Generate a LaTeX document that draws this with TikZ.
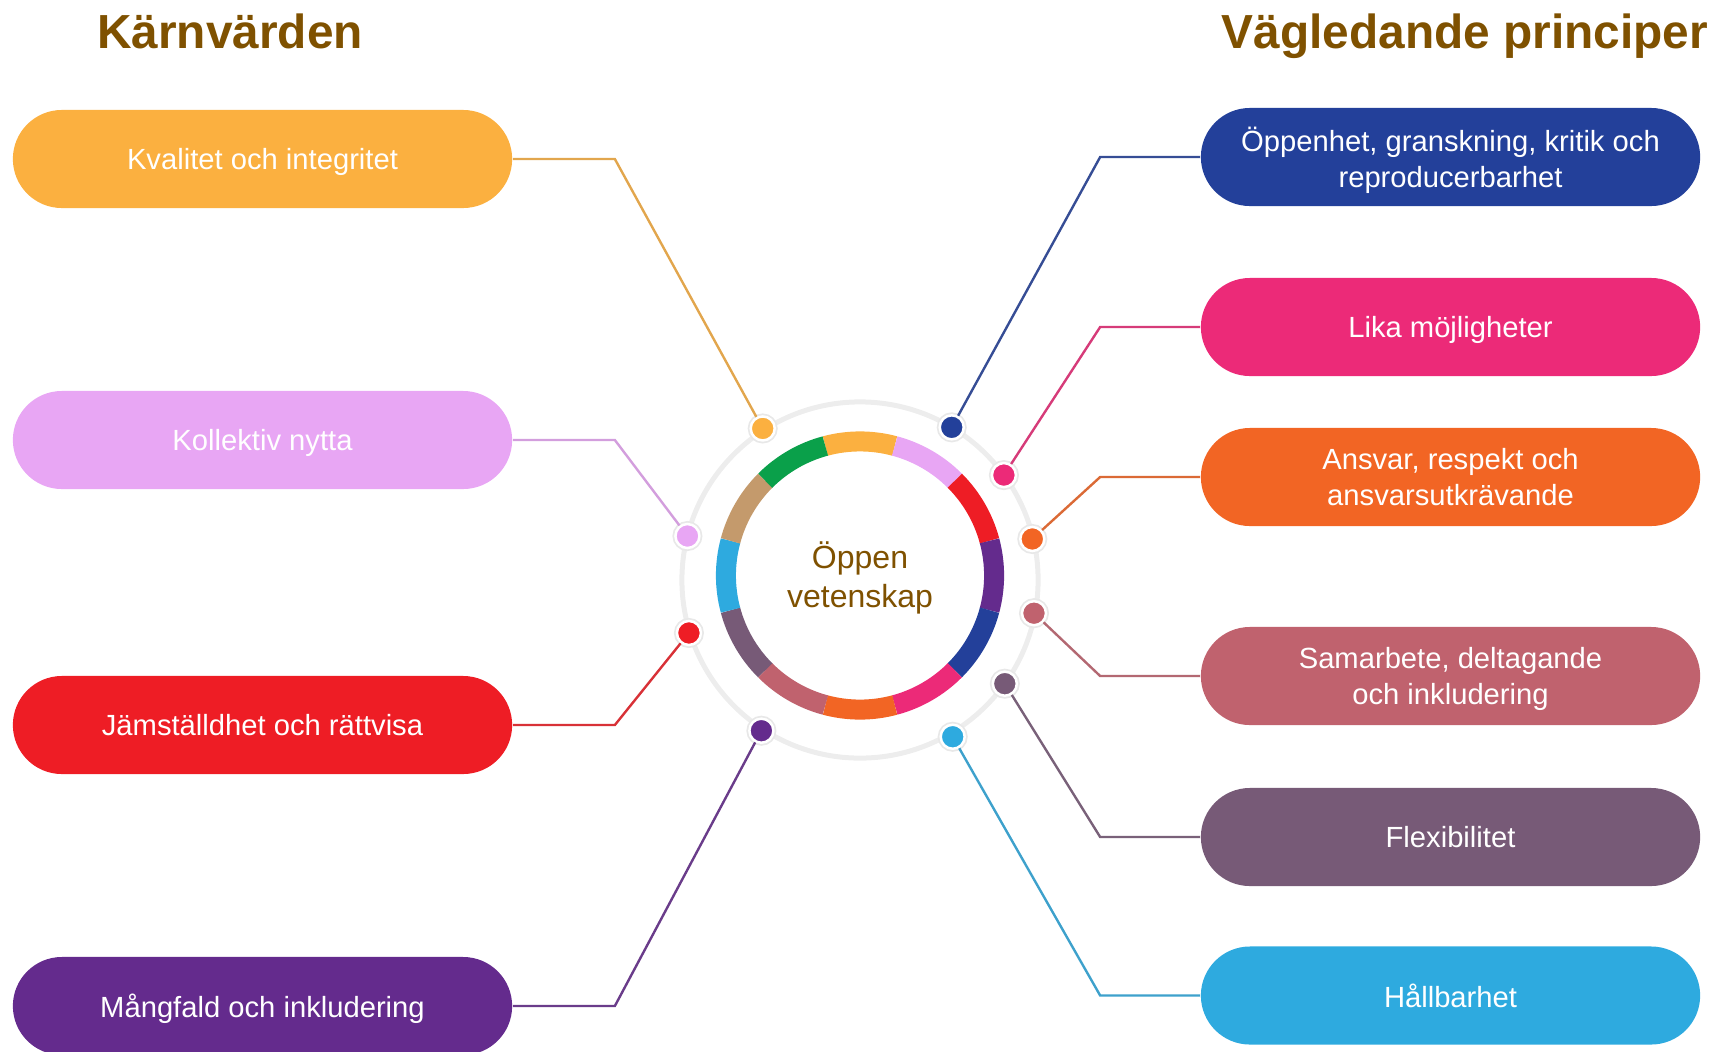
\documentclass[tikz,border=0pt]{standalone}
\usepackage{fontspec}
\setmainfont{Liberation Sans}
\usetikzlibrary{calc}
\definecolor{titlebrown}{HTML}{7F5100}
\definecolor{kval}{HTML}{FBB040}
\definecolor{koll}{HTML}{E8A6F4}
\definecolor{jams}{HTML}{EE1D25}
\definecolor{mang}{HTML}{642B8D}
\definecolor{oppen}{HTML}{23409A}
\definecolor{lika}{HTML}{EC2A78}
\definecolor{ansv}{HTML}{F26524}
\definecolor{samb}{HTML}{C0626E}
\definecolor{flex}{HTML}{775A77}
\definecolor{hall}{HTML}{2EAADF}
\definecolor{tan}{HTML}{C49A6C}
\definecolor{grn}{HTML}{0AA04A}
\def\ringseg(#1:#2)#3{\draw[line width=0.2cm, color=#3] ($(ctr)+(#1:1.34cm)$) arc[start angle=#1, end angle=#2, radius=1.34cm];}

\begin{document}
\begin{tikzpicture}[x=0.01cm, y=-0.01cm,
	box/.style={fill=#1, rounded corners=0.49cm, minimum width=4.99cm, minimum height=0.98cm,
		inner sep=0pt, text depth=0pt, align=center, text=white, font=\fontsize{8.3}{10.2}\selectfont},
	dot/.style={circle, fill=#1, draw=white, line width=0.025cm, minimum size=0.24cm, inner sep=0pt,
		preaction={draw=black!9, line width=0.06cm}},
	link/.style={line width=0.024cm, color=#1!80!gray},
	heading/.style={anchor=base, text=titlebrown, font=\fontsize{13.6}{16}\selectfont\bfseries}]
	\useasboundingbox (0,0) rectangle (1719,1051);
	
	%%%%% TITLES %%%%%
	\node[heading] (leftttl) at (230, 48) {Kärnvärden};
	\node[heading] (rightttl) at (1465, 48) {Vägledande principer};
	
	%%%%% CENTRE %%%%%
	\coordinate (ctr) at (860, 575.5);
	\coordinate (halo) at (860, 580);
	\draw[line width=0.05cm, color=black!7] (halo) circle[radius=1.78cm];
	
	\ringseg(105:75){kval}
	\ringseg(75:45){koll}
	\ringseg(45:15){jams}
	\ringseg(15:-15){mang}
	\ringseg(-15:-45){oppen}
	\ringseg(-45:-75){lika}
	\ringseg(-75:-105){ansv}
	\ringseg(-105:-135){samb}
	\ringseg(-135:-165){flex}
	\ringseg(-165:-195){hall}
	\ringseg(165:135){tan}
	\ringseg(135:105){grn}
	
	\node[align=center, text=titlebrown, font=\fontsize{9.1}{11}\selectfont] (ctrtxt) at (860, 578) {Öppen\\vetenskap};
	
	%%%%% LEFT BOXES %%%%%
	\node[box=kval] (kvalbox) at (262.5, 159) {Kvalitet och integritet};
	\node[box=koll] (kollbox) at (262.5, 440) {Kollektiv nytta};
	\node[box=jams] (jamsbox) at (262.5, 725) {Jämställdhet och rättvisa};
	\node[box=mang] (mangbox) at (262.5, 1006) {Mångfald och inkludering};
	
	%%%%% RIGHT BOXES %%%%%
	\node[box=oppen] (oppbox) at (1450.5, 157) {Öppenhet, granskning, kritik och\\reproducerbarhet};
	\node[box=lika] (likabox) at (1450.5, 327) {Lika möjligheter};
	\node[box=ansv] (ansvbox) at (1450.5, 477) {Ansvar, respekt och\\ansvarsutkrävande};
	\node[box=samb] (sambbox) at (1450.5, 676) {Samarbete, deltagande\\och inkludering};
	\node[box=flex] (flexbox) at (1450.5, 837) {Flexibilitet};
	\node[box=hall] (hallbox) at (1450.5, 995.5) {Hållbarhet};
	
	%%%%% DOTS %%%%%
	\node[dot=kval] (kvaldot) at ($(halo)+(122.7:1.8cm)$) {};
	\node[dot=koll] (kolldot) at ($(halo)+(165.7:1.78cm)$) {};
	\node[dot=jams] (jamsdot) at ($(halo)+(-162.8:1.79cm)$) {};
	\node[dot=mang] (mangdot) at ($(halo)+(-123.2:1.8cm)$) {};
	\node[dot=oppen] (oppdot) at ($(halo)+(59:1.78cm)$) {};
	\node[dot=lika] (likadot) at ($(halo)+(36.1:1.78cm)$) {};
	\node[dot=ansv] (ansvdot) at ($(halo)+(13.4:1.77cm)$) {};
	\node[dot=samb] (sambdot) at ($(halo)+(-10.8:1.77cm)$) {};
	\node[dot=flex] (flexdot) at ($(halo)+(-35.6:1.78cm)$) {};
	\node[dot=hall] (halldot) at ($(halo)+(-59.4:1.82cm)$) {};
	
	%%%%% LINKS %%%%%
	\draw[link=kval] (kvalbox.east) -- ++(102, 0) -- (kvaldot);
	\draw[link=koll] (kollbox.east) -- ++(102, 0) -- (kolldot);
	\draw[link=jams] (jamsbox.east) -- ++(102, 0) -- (jamsdot);
	\draw[link=mang] (mangbox.east) -- ++(102, 0) -- (mangdot);
	
	\draw[link=oppen] (oppbox.west) -- ++(-100, 0) -- (oppdot);
	\draw[link=lika] (likabox.west) -- ++(-100, 0) -- (likadot);
	\draw[link=ansv] (ansvbox.west) -- ++(-100, 0) -- (ansvdot);
	\draw[link=samb] (sambbox.west) -- ++(-100, 0) -- (sambdot);
	\draw[link=flex] (flexbox.west) -- ++(-100, 0) -- (flexdot);
	\draw[link=hall] (hallbox.west) -- ++(-100, 0) -- (halldot);
	
\end{tikzpicture}
\end{document}
